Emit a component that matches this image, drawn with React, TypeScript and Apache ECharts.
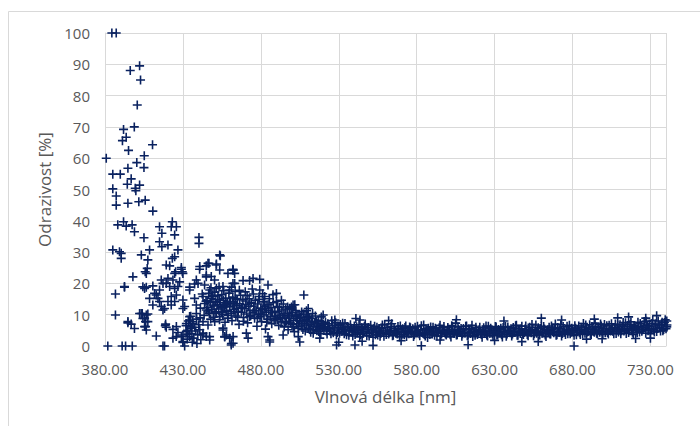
import React, { useEffect, useRef } from "react";
import * as echarts from "echarts";

// Axis definitions
const X_ORIGIN = 380; // first wavelength tick (nm)
const X_END = 740; // axis end (nm)
const X_STEP = 50;
const Y_MIN = 0;
const Y_MAX = 100;
const Y_STEP = 10;
const X_TITLE = "Vlnová délka [nm]";
const Y_TITLE = "Odrazivost [%]";

// Measured points [wavelength nm, reflectance %]
const sparseHigh: number[][] = [
  [384.4, 100], [387.2, 100], [402.2, 89.5], [396.2, 88], [402.8, 85], [400.7, 77], [398.8, 70],
  [391.9, 69.2], [393.6, 66.7], [391.2, 65.6], [410.5, 64.3], [395.1, 62.5], [380.8, 60], [405.2, 60.8],
  [400.4, 58.6], [405, 57], [394.7, 56.8], [385, 54.9], [389.8, 54.9], [396.8, 53.4], [394.3, 51.7],
  [402.2, 51.4], [385, 50.2], [399.4, 50.4], [399.8, 49.6], [387.2, 47.9], [387.2, 45], [394.7, 45.6],
  [401.7, 46.1], [405.8, 46.6], [410.7, 43.1], [388.2, 38.7], [391.9, 39.7], [393.6, 38.3], [397.4, 38.7],
  [398.9, 36.5], [405, 34.6], [415, 38.1], [416.5, 36], [423.2, 39.7], [425.8, 38.1], [422.5, 38.1],
  [424.7, 35.5], [440.3, 34.7], [440.3, 32.8], [415, 33.3], [416.5, 31.7], [420.4, 32.3], [385, 30.7],
  [389.3, 30.1], [390.4, 28], [390.4, 29.6], [403.3, 29.1], [408.6, 30.7], [407.5, 27.5], [407.1, 24.8],
  [405.8, 23.7], [426.8, 30.7], [419.3, 25.9], [421.5, 25.6], [423.2, 28], [424.7, 28.5], [429, 25.1],
  [429.6, 23.7], [425.3, 23.7], [430, 23.2], [429, 24.5], [397.9, 22.1], [392.5, 18.8], [392.5, 19],
  [386.7, 16.6], [386.7, 9.9], [394.7, 7.4], [396.8, 7], [398.9, 5.6], [394.7, 7.8],
];

const scatterMid: number[][] = [
  [403.9, 10.4], [406.5, 9.9], [406, 7.8], [406, 6.2], [381.8, 0], [391, 0], [393.2, 0], [397.5, 0],
  [417.2, 0], [418.2, 0], [431.1, 0], [412.9, 3.2], [418.7, 6.5], [404.3, 18.9], [406.5, 18.8],
  [410.7, 19.2], [411.8, 16.8], [415, 17.9], [417.2, 20], [420.4, 21.6], [421.5, 19], [424.7, 18.4],
  [427.9, 20.5], [434.3, 18.8], [437.5, 19.8], [438.6, 21.1], [414, 15.2], [415, 14.2], [416.1, 12.6],
  [420.4, 14.2], [422.5, 15.8], [425.8, 16.3], [422.5, 13.1], [430, 14.7], [431.1, 12.6], [418.2, 12],
  [402.2, 10.4], [407.5, 10.2], [404.3, 8.8], [407.5, 7.8], [405.4, 6.2], [406.5, 5.1], [418.9, 7],
  [425.8, 6.2], [426.8, 4.3], [429, 3], [423.6, 2.5], [430, 1.1], [445, 25.6], [445, 22.1],
  [440.7, 24.5], [453.6, 29.1], [446.1, 26.4], [451.5, 26.2], [462.2, 24.3], [458.9, 23.2],
  [440.8, 25.4], [406.5, 23.2], [424.7, 23.2], [416.1, 21.1], [419.3, 20], [423.6, 21.1], [426.8, 19],
  [434.3, 17.9], [439.7, 20], [443.9, 19.5], [447.2, 17.9], [451.5, 18.4], [455.7, 19], [460, 17.9],
  [463.2, 20], [405.4, 18.4], [412.9, 16.3], [408.6, 15.2], [410.7, 13.1], [417.2, 11.5], [424.7, 14.2],
  [430, 12], [437.5, 15.2], [438.6, 13.1], [442.9, 15.8], [443.9, 13.6], [448.2, 15.2], [449.3, 13.1],
  [453.6, 14.7], [455.7, 12.6], [457.9, 11], [462.2, 13.6], [464.3, 12], [445, 11.5], [438.6, 10.4],
  [434.3, 9.4], [434.3, 8.3], [432.2, 7.2], [436.5, 7.2], [435.4, 5.7], [432.2, 4.6], [430, 3.5],
  [434.3, 3], [442.9, 7.8], [446.1, 6.7], [442.9, 4.1], [445, 3], [447.2, 1.9], [455.7, 5.7],
  [457.9, 3.5], [462.2, 3], [462.2, 0.9], [450.4, 7.8], [453.6, 9.4], [403.2, 10.4], [405.4, 8.8],
  [419.3, 6], [423.6, 5.3], [425.7, 3], [430, 1.4],
  [432, 6.5], [433, 5], [433.5, 8], [434.8, 6.2], [435.8, 4], [436.2, 7.8], [437, 2.5], [437.5, 6],
  [438.2, 4.8], [438.8, 8.6], [439.5, 3.6], [440.2, 6.8], [440.8, 5.2], [441.5, 2], [432.8, 2.2],
  [436, 1.2], [439, 0.8], [441, 9], [433.2, 3.8], [435, 9.5],
];

const cloudEdges: number[][] = [
  [454, 28.8], [446.7, 26.4], [451.4, 25.9], [453.6, 24.3], [462.1, 24.5], [463.2, 23.2], [445, 22.7],
  [448.2, 22.2], [450.3, 21.1], [475, 21.6], [479.3, 21.3], [472.8, 20.9], [468.6, 20.9], [462.1, 20],
  [484.6, 19.5], [479.3, 17.9], [490, 16.8], [482.5, 15.8], [507.6, 16.3], [500.7, 13.1], [509.3, 11.3],
  [510.3, 9.4], [442.8, 3.5], [447.1, 3], [455.7, 5.1], [456.8, 3], [460, 2.5], [461, 0.3], [470.7, 4.1],
  [471.8, 2.5], [484.6, 3], [485.7, 1.9], [494.3, 3.5], [504, 3], [517.8, 2.5], [513.6, 4.1],
  [462.2, 24.2], [499.7, 12.5], [510.4, 12], [520, 9.9], [527.5, 8.3], [543.6, 8.3], [528.6, 0.3],
  [540.4, 0.3], [505, 1.3], [485.7, 1.3], [461.1, 0.8], [456.8, 2.9],
];

const cloudCore: number[][] = [
  [445.5, 14.5], [446, 12.2], [446.5, 16.8], [447, 10.5], [447.5, 13.8], [448, 18.6], [448.5, 11.6],
  [449, 15.9], [449.5, 9.2], [450, 12.8], [450.5, 17.2], [451, 14.1], [451.5, 10.9], [452, 13.2],
  [452.5, 16.1], [453, 11.8], [453.5, 8.4], [454, 13.9], [454.5, 12.2], [455, 16.4], [455.5, 10.1],
  [456, 14.6], [456.5, 12.9], [457, 7.6], [457.5, 15.3], [458, 11.4], [458.5, 13.7], [459, 9.8],
  [459.5, 16.9], [460, 12.5], [460.5, 14.2], [461, 10.4], [461.5, 8.1], [462, 15.6], [462.5, 11.7],
  [463, 13.1], [463.5, 17.4], [464, 9.6], [464.5, 12.9], [465, 14.8], [465.5, 11.1], [466, 6.9],
  [466.5, 13.5], [467, 16.2], [467.5, 10.8], [468, 12.4], [468.5, 14.9], [469, 9.1], [469.5, 11.9],
  [470, 17.3], [470.5, 13.2], [471, 10.2], [471.5, 7.4], [472, 12.7], [472.5, 15.1], [473, 11.3],
  [473.5, 9.7], [474, 13.9], [474.5, 18.2], [475, 10.6], [475.5, 12.8], [476, 8.9], [476.5, 14.6],
  [477, 11.2], [477.5, 6.3], [478, 13.4], [478.5, 10.1], [479, 15.8], [479.5, 9.4], [480, 12.1],
  [480.5, 7.8], [481, 11.6], [481.5, 14.1], [482, 9.9], [482.5, 12.7], [483, 5.4], [483.5, 10.8],
  [484, 13.2], [484.5, 8.6], [485, 11.4], [485.5, 15.1], [486, 9.3], [486.5, 12.2], [487, 7.1],
  [487.5, 10.6], [488, 13.8], [488.5, 8.2], [489, 11.1], [489.5, 9.6], [490, 14.2], [490.5, 8.4],
  [491, 10.9], [491.5, 6.6], [492, 12.3], [492.5, 9.1], [493, 7.7], [493.5, 11.5], [494, 8.8],
  [494.5, 13.4], [495, 6.1], [495.5, 9.7], [496, 11.8], [496.5, 7.9], [497, 10.4], [497.5, 5.2],
  [498, 8.9], [498.5, 12.1], [499, 7.3], [499.5, 9.9], [500, 6.8], [500.5, 10.7], [501, 8.2],
  [501.5, 4.6], [502, 9.4], [502.5, 11.3], [503, 7.1], [503.5, 8.8], [504, 6.2], [504.5, 10.1],
  [505, 7.9], [505.5, 9.2], [506, 6.4], [506.5, 8.1], [507, 5.3], [507.5, 10.2], [508, 7.2],
  [508.5, 4.8], [509, 8.6], [509.5, 6.7], [510, 7.9], [510.5, 5.6], [511, 9.1], [511.5, 6.9],
  [512, 4.4], [512.5, 7.7], [513, 8.8], [513.5, 6.1], [514, 5.2], [514.5, 7.4], [515, 9.6],
  [515.5, 6.3], [516, 4.9], [516.5, 7.1], [517, 8.2], [517.5, 5.7], [518, 6.6], [518.5, 3.9],
  [519, 7.8], [519.5, 5.9], [520, 6.9],
];

const cloudExtra: number[][] = [
  [441.2, 12.1], [442.4, 16.6], [443.6, 9.8], [444.8, 14.3], [446.3, 11.2], [447.8, 8.6], [449.2, 16.2],
  [450.6, 10.5], [452.2, 14.8], [453.2, 18.9], [454.8, 10.7], [456.2, 17.7], [457.2, 13.2], [458.7, 8.9],
  [459.8, 14.1], [461.2, 18.8], [462.8, 10.9], [463.8, 15.1], [465.2, 9.2], [466.2, 17.8], [467.8, 12.3],
  [468.8, 7.9], [470.2, 14.4], [471.2, 16.1], [472.8, 9.4], [473.8, 13.7], [475.2, 16.6], [476.2, 11.4],
  [477.8, 8.8], [478.8, 14.9], [480.2, 10.2], [481.2, 16.7], [482.8, 11.9], [483.8, 7.6], [485.2, 13.3],
  [486.8, 10.8], [487.8, 16.4], [489.2, 8.7], [490.8, 12.6], [491.8, 9.8], [493.2, 14.6], [494.8, 10.3],
  [495.8, 7.4], [497.2, 12.5], [498.2, 9.6], [499.8, 11.7], [500.8, 6.1], [501.8, 13.2], [503.2, 9.7],
  [504.2, 5.6], [506.2, 10.9], [507.8, 7.8], [509.8, 9.9], [511.8, 5.2], [513.2, 10.4], [515.8, 7.9],
  [517.2, 4.6], [518.8, 9.3],
];

const plateau: number[][] = [
  [521, 6.2], [522, 4.8], [523, 7.1], [524, 5.5], [525, 3.9], [526, 6.6], [527, 5.1], [528, 7.4],
  [529, 4.3], [530, 5.8], [531, 6.9], [532, 4.6], [533, 5.3], [534, 7.2], [535, 3.6], [536, 6.1],
  [537, 4.9], [538, 5.7], [539, 3.2], [540, 6.4], [541, 5.0], [542, 4.2], [543, 6.8], [544, 3.7],
  [545, 5.4], [546, 4.5], [547, 7.0], [548, 3.3], [549, 5.9], [550, 4.1], [551, 5.2], [552, 2.8],
  [553, 6.3], [554, 4.4], [555, 3.5], [556, 5.6], [557, 4.0], [558, 6.7], [559, 3.1], [560, 4.8],
  [561, 5.9], [562, 3.8], [563, 4.6], [564, 7.1], [565, 3.4], [566, 5.0], [567, 4.3], [568, 6.2],
  [569, 2.9], [570, 4.7], [571, 5.5], [572, 3.6], [573, 6.4], [574, 4.2], [575, 3.9], [576, 5.8],
  [577, 4.5], [578, 3.0], [579, 6.0], [580, 4.4], [581, 5.1], [582, 3.3], [583, 6.5], [584, 4.1],
  [585, 3.7], [586, 5.4], [587, 2.7], [588, 4.9], [589, 6.1], [590, 3.8], [591, 4.6], [592, 5.7],
  [593, 3.2], [594, 4.3], [595, 6.6], [596, 3.9], [597, 5.0], [598, 4.2], [599, 3.5], [600, 5.9],
  [601, 4.7], [602, 2.9], [603, 6.2], [604, 4.0], [605, 7.3], [606, 3.6], [607, 5.3], [608, 4.4],
  [609, 3.1], [610, 5.6], [611, 4.1], [612, 6.4], [613, 3.4], [614, 4.8], [615, 5.5], [616, 3.0],
  [617, 4.5], [618, 6.0], [619, 3.7], [620, 5.2], [621, 4.3], [622, 2.8], [623, 5.8], [624, 4.6],
  [625, 3.5], [626, 6.3], [627, 4.0], [628, 5.1], [629, 3.3], [630, 4.9], [631, 6.1], [632, 3.6],
  [633, 4.4], [634, 5.7], [635, 2.9], [636, 4.7], [637, 6.2], [638, 3.8], [639, 5.0], [640, 4.2],
  [641, 3.2], [642, 5.9], [643, 4.5], [644, 6.6], [645, 3.4], [646, 4.8], [647, 5.5], [648, 3.9],
  [649, 4.3], [650, 6.4], [651, 3.7], [652, 5.2], [653, 4.6], [654, 6.9], [655, 3.3], [656, 5.0],
  [657, 4.1], [658, 5.8], [659, 3.5], [660, 6.3], [661, 4.4], [662, 5.4], [663, 3.0], [664, 4.9],
  [665, 6.0], [666, 3.8], [667, 5.3], [668, 4.2], [669, 7.0], [670, 3.6], [671, 4.7], [672, 5.6],
  [673, 3.2], [674, 6.2], [675, 4.5], [676, 5.1], [677, 3.9], [678, 6.6], [679, 4.3], [680, 5.0],
  [681, 3.4], [682, 5.7], [683, 4.8], [684, 6.4], [685, 3.7], [686, 5.3], [687, 7.2], [688, 4.1],
  [689, 5.9], [690, 4.6], [691, 6.8], [692, 3.6], [693, 5.4], [694, 4.4], [695, 6.1], [696, 3.9],
  [697, 5.0], [698, 7.0], [699, 4.7], [700, 5.6], [701, 4.2], [702, 6.5], [703, 3.8], [704, 5.2],
  [705, 7.1], [706, 4.6], [707, 5.9], [708, 4.0], [709, 6.7], [710, 5.1], [711, 3.9], [712, 6.3],
  [713, 4.8], [714, 7.4], [715, 5.5], [716, 4.3], [717, 6.9], [718, 5.0], [719, 3.7], [720, 6.1],
  [721, 5.4], [722, 7.6], [723, 4.5], [724, 6.0], [725, 5.2], [726, 7.8], [727, 4.1], [728, 6.6],
  [729, 5.6], [730, 3.9], [731, 7.2], [732, 5.1], [733, 6.4], [734, 4.6], [735, 8.0], [736, 5.8],
  [737, 6.9], [738, 4.9], [739, 7.5], [740, 5.5], [740.6, 6.7],
];

const plateauB: number[][] = [
  [520.5, 5.4], [521.5, 7.6], [522.5, 3.8], [523.5, 6.0], [524.5, 4.7], [525.5, 8.1], [526.5, 4.2],
  [527.5, 5.9], [528.5, 3.5], [529.5, 6.5], [530.5, 4.1], [531.5, 5.6], [532.5, 7.3], [533.5, 3.9],
  [534.5, 5.0], [535.5, 6.2], [536.5, 3.4], [537.5, 6.8], [538.5, 4.5], [539.5, 5.3], [540.5, 3.7],
  [541.5, 6.1], [542.5, 4.9], [543.5, 2.9], [544.5, 5.8], [545.5, 4.0], [546.5, 6.3], [547.5, 4.6],
  [548.5, 5.2], [549.5, 3.2], [550.5, 6.6], [551.5, 4.3], [552.5, 5.5], [553.5, 3.6], [554.5, 6.0],
  [555.5, 4.8], [556.5, 3.1], [557.5, 5.7], [558.5, 4.4], [559.5, 6.9], [560.5, 3.7], [561.5, 5.1],
  [562.5, 4.2], [563.5, 6.2], [564.5, 3.3], [565.5, 5.6], [566.5, 4.6], [567.5, 3.8], [568.5, 5.3],
  [569.5, 6.4], [570.5, 3.5], [571.5, 4.5], [572.5, 5.9], [573.5, 3.0], [574.5, 5.0], [575.5, 6.1],
  [576.5, 4.1], [577.5, 5.5], [578.5, 3.6], [579.5, 4.7], [580.5, 6.3], [581.5, 3.9], [582.5, 5.2],
  [583.5, 4.3], [584.5, 6.7], [585.5, 3.2], [586.5, 4.8], [587.5, 5.7], [588.5, 3.7], [589.5, 4.4],
  [590.5, 6.0], [591.5, 3.4], [592.5, 5.1], [593.5, 4.6], [594.5, 5.8], [595.5, 3.1], [596.5, 4.9],
  [597.5, 6.2], [598.5, 3.8], [599.5, 4.5], [600.5, 5.3], [601.5, 3.6], [602.5, 6.5], [603.5, 4.2],
  [604.5, 5.0], [605.5, 3.5], [606.5, 6.1], [607.5, 4.7], [608.5, 5.6], [609.5, 3.9], [610.5, 4.3],
  [611.5, 6.3], [612.5, 3.3], [613.5, 5.4], [614.5, 4.0], [615.5, 6.6], [616.5, 4.6], [617.5, 3.4],
  [618.5, 5.2], [619.5, 4.4], [620.5, 6.0], [621.5, 3.7], [622.5, 5.0], [623.5, 4.1], [624.5, 6.4],
  [625.5, 3.2], [626.5, 4.8], [627.5, 5.7], [628.5, 3.9], [629.5, 4.5], [630.5, 6.2], [631.5, 3.5],
  [632.5, 5.3], [633.5, 4.2], [634.5, 3.6], [635.5, 5.9], [636.5, 4.4], [637.5, 3.1], [638.5, 6.1],
  [639.5, 4.6], [640.5, 5.5], [641.5, 3.8], [642.5, 4.3], [643.5, 6.5], [644.5, 3.4], [645.5, 5.1],
  [646.5, 4.0], [647.5, 6.3], [648.5, 3.7], [649.5, 5.4], [650.5, 4.7], [651.5, 3.3], [652.5, 6.0],
  [653.5, 4.2], [654.5, 5.2], [655.5, 3.9], [656.5, 6.7], [657.5, 4.5], [658.5, 3.6], [659.5, 5.6],
  [660.5, 4.1], [661.5, 6.2], [662.5, 3.5], [663.5, 5.0], [664.5, 4.4], [665.5, 3.8], [666.5, 6.4],
  [667.5, 4.6], [668.5, 5.5], [669.5, 3.4], [670.5, 5.9], [671.5, 4.3], [672.5, 6.8], [673.5, 4.0],
  [674.5, 5.1], [675.5, 3.7], [676.5, 6.3], [677.5, 4.8], [678.5, 3.9], [679.5, 5.7], [680.5, 4.4],
  [681.5, 6.5], [682.5, 3.6], [683.5, 5.3], [684.5, 4.2], [685.5, 6.0], [686.5, 3.8], [687.5, 5.0],
  [688.5, 6.7], [689.5, 4.5], [690.5, 5.4], [691.5, 3.9], [692.5, 6.2], [693.5, 4.7], [694.5, 7.3],
  [695.5, 4.1], [696.5, 5.8], [697.5, 4.4], [698.5, 6.4], [699.5, 3.7], [700.5, 6.9], [701.5, 5.1],
  [702.5, 4.3], [703.5, 6.6], [704.5, 4.8], [705.5, 5.7], [706.5, 3.9], [707.5, 7.0], [708.5, 5.3],
  [709.5, 4.5], [710.5, 6.8], [711.5, 4.9], [712.5, 7.5], [713.5, 5.6], [714.5, 4.0], [715.5, 6.2],
  [716.5, 5.4], [717.5, 7.7], [718.5, 4.4], [719.5, 6.5], [720.5, 5.8], [721.5, 4.2], [722.5, 6.1],
  [723.5, 7.2], [724.5, 4.7], [725.5, 5.9], [726.5, 6.6], [727.5, 7.9], [728.5, 4.9], [729.5, 6.3],
  [730.5, 5.2], [731.5, 8.2], [732.5, 4.5], [733.5, 7.0], [734.5, 5.6], [735.5, 6.7], [736.5, 4.8],
  [737.5, 7.6], [738.5, 5.3], [739.5, 8.4], [740.5, 6.1],
];

const plateauOutliers: number[][] = [
  [552, 0.2], [583, 0.1], [613, 0.4], [647.5, 1.4], [658, 1.4], [660, 8.9], [681, 0], [716, 9.3],
  [734, 9.7], [730, 2.5], [720.5, 2.4], [740.5, 8], [605.5, 8.4], [541, 8.8], [562, 8.1], [636, 8],
  [673, 8.3], [694, 8.6], [709, 9], [727, 8.9], [699, 2.3], [689, 2.2], [630, 1.8], [595, 1.9],
  [570, 1.7], [545, 1.5], [530, 1.2],
];

const PLUS_PATH = "path://M0,3.7 H9 V5.3 H0 Z M3.7,0 H5.3 V9 H3.7 Z";

export default function App() {
  const ref = useRef<HTMLDivElement>(null);

  useEffect(() => {
    if (!ref.current) return;
    const chart = echarts.init(ref.current, undefined, { renderer: "svg" });
    const all = [
      ...sparseHigh,
      ...scatterMid,
      ...cloudEdges,
      ...cloudCore,
      ...cloudExtra,
      ...plateau,
      ...plateauB,
      ...plateauOutliers,
    ].map(([x, y]) => [x - X_ORIGIN, y]);

    const textColor = "#595959";
    const gridColor = "#d9d9d9";
    const font = "'Open Sans', 'Liberation Sans', sans-serif";

    chart.setOption({
      animation: false,
      backgroundColor: "#ffffff",
      graphic: [
        {
          type: "rect",
          shape: { x: 8.5, y: 11.5, width: 720, height: 440 },
          style: { fill: "none", stroke: gridColor, lineWidth: 1 },
          silent: true,
        },
      ],
      grid: { left: 105, top: 33, right: 34, bottom: 80, containLabel: false },
      xAxis: {
        type: "value",
        min: 0,
        max: X_END - X_ORIGIN,
        interval: X_STEP,
        name: X_TITLE,
        nameLocation: "middle",
        nameGap: 42,
        nameTextStyle: { color: textColor, fontSize: 17, fontFamily: font },
        axisLine: { show: true, lineStyle: { color: gridColor, width: 1 } },
        axisTick: { show: false },
        splitLine: { show: true, lineStyle: { color: gridColor, width: 1 } },
        axisLabel: {
          color: textColor,
          fontSize: 15,
          fontFamily: font,
          margin: 15,
          showMaxLabel: false,
          formatter: (v: number) => (v + X_ORIGIN).toFixed(2),
        },
      },
      yAxis: {
        type: "value",
        min: Y_MIN,
        max: Y_MAX,
        interval: Y_STEP,
        name: Y_TITLE,
        nameLocation: "middle",
        nameGap: 50,
        nameTextStyle: { color: textColor, fontSize: 17, fontFamily: font },
        axisLine: { show: true, lineStyle: { color: gridColor, width: 1 } },
        axisTick: { show: false },
        splitLine: { show: true, lineStyle: { color: gridColor, width: 1 } },
        axisLabel: { color: textColor, fontSize: 15, fontFamily: font, margin: 15 },
      },
      series: [
        {
          type: "scatter",
          data: all,
          symbol: PLUS_PATH,
          symbolSize: 9,
          clip: false,
          itemStyle: { color: "#0a2260", opacity: 1 },
          emphasis: { disabled: true },
        },
      ],
    });
    return () => chart.dispose();
  }, []);

  return (
    <div
      ref={ref}
      style={{ position: "absolute", left: 0, top: 0, width: 700, height: 426 }}
    />
  );
}
